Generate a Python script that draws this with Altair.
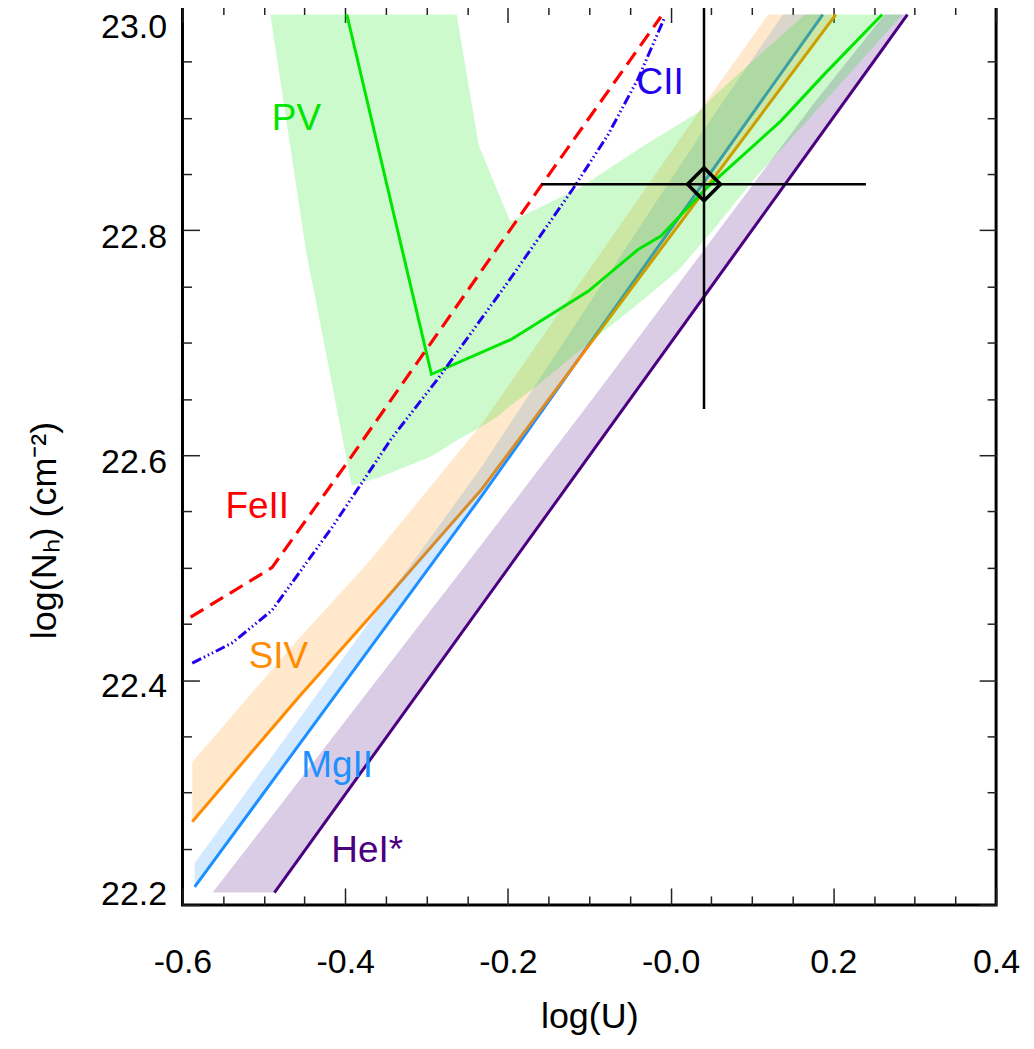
import altair as alt
import pandas as pd

FONT = "Liberation Sans"

# ---------------- data ----------------
x_ticks = [-0.6, -0.55, -0.5, -0.45, -0.4, -0.35, -0.3, -0.25, -0.2, -0.15, -0.1,
           -0.05, 0.0, 0.05, 0.1, 0.15, 0.2, 0.25, 0.3, 0.35, 0.4]
y_ticks = [22.2, 22.25, 22.3, 22.35, 22.4, 22.45, 22.5, 22.55, 22.6, 22.65, 22.7,
           22.75, 22.8, 22.85, 22.9, 22.95, 23.0]

# PV (green)
pv_line_u = [-0.398, -0.294, -0.196, -0.101, -0.040, -0.012, 0.043, 0.135, 0.189, 0.260]
pv_line_nh = [22.992, 22.672, 22.703, 22.746, 22.783, 22.795, 22.837, 22.897, 22.939, 22.992]
pv_band_u = [-0.492, -0.448, -0.436, -0.392, -0.359, -0.294, -0.263, -0.236, -0.215, -0.197,
             -0.1625, -0.1135, -0.036, 0.009, 0.034, 0.054, 0.103, 0.165, 0.285]
pv_band_lo = [22.992, 22.781, 22.737, 22.573, 22.580, 22.599, 22.613, 22.624, 22.633, 22.644,
              22.663, 22.692, 22.737, 22.764, 22.785, 22.802, 22.846, 22.895, 22.992]
pv_band_hi = [22.992, 22.992, 22.992, 22.992, 22.992, 22.992, 22.992, 22.876, 22.839, 22.808,
              22.820, 22.837, 22.874, 22.894, 22.905, 22.920, 22.952, 22.992, 22.992]

# FeII (red dashed)
fe_u = [-0.590, -0.490, -0.399, -0.159, -0.012]
fe_nh = [22.456, 22.500, 22.592, 22.840, 22.990]

# CII (blue dash-dot-dot)
c_u = [-0.588, -0.539, -0.490, -0.457, -0.416, -0.343, -0.285, -0.197, -0.120, -0.077, -0.040, -0.007]
c_nh = [22.415, 22.433, 22.462, 22.495, 22.536, 22.615, 22.669, 22.757, 22.837, 22.885, 22.935, 22.990]

# SiIV (orange)
si_u = [-0.588, -0.457, -0.371, -0.232, 0.041, 0.203]
si_nh = [22.274, 22.385, 22.455, 22.570, 22.835, 22.992]
si_band_u = [-0.588, -0.457, -0.371, -0.232, 0.041, 0.120, 0.203]
si_band_lo = [22.274, 22.385, 22.455, 22.570, 22.835, 22.912, 22.992]
si_band_hi = [22.327, 22.437, 22.505, 22.628, 22.912, 22.992, 22.992]

# MgII (dodger blue)
mg_u = [-0.585, -0.232, 0.041, 0.187]
mg_nh = [22.216, 22.564, 22.843, 22.992]
mg_band_u = [-0.585, -0.232, 0.041, 0.138, 0.187]
mg_band_lo = [22.216, 22.564, 22.843, 22.942, 22.992]
mg_band_hi = [22.237, 22.590, 22.890, 22.992, 22.992]

# HeI* (purple)
he_u = [-0.487, 0.291]
he_nh = [22.211, 22.992]
he_band_u = [-0.563, -0.487, -0.232, -0.089, 0.177, 0.263, 0.291]
he_band_lo = [22.211, 22.211, 22.466, 22.609, 22.875, 22.961, 22.992]
he_band_hi = [22.211, 22.282, 22.521, 22.657, 22.914, 22.992, 22.992]

# observed solution with error bars
obs_u = [0.041]
obs_nh = [22.841]
obs_u_lo = [-0.159]
obs_u_hi = [0.240]
obs_nh_lo = [22.641]
obs_nh_hi = [23.041]

# annotations
lab_text = ["PV", "FeII", "CII", "SIV", "MgII", "HeI*"]
lab_u = [-0.460, -0.508, -0.013, -0.482, -0.410, -0.373]
lab_nh = [22.889, 22.544, 22.921, 22.411, 22.314, 22.238]
lab_color = ["#00e600", "#ff0000", "#2200ee", "#ff8c00", "#1e90ff", "#4b0082"]

GREEN, RED, BLUE, ORANGE, DBLUE, PURPLE = lab_color

# ---------------- scales & axes ----------------
xs = alt.Scale(domain=[-0.6, 0.4], nice=False, zero=False)
ys = alt.Scale(domain=[22.2, 23.0], nice=False, zero=False)

MAJOR = "abs(datum.value*5 - round(datum.value*5)) < 0.001"


def tsize():
    return {"condition": {"test": MAJOR, "value": -17}, "value": -9}


x_axis = alt.Axis(
    orient="bottom", values=x_ticks, domain=False, grid=False,
    tickSize=tsize(), tickColor="#222222", tickWidth=1.5,
    labelExpr=(f"({MAJOR}) ? (abs(datum.value) < 1e-9 ? '-0.0' : "
               "replace(format(datum.value, '.1f'), '\u2212', '-')) : ''"),
    labelFont=FONT, labelFontSize=34, labelColor="black", labelPadding=58,
    labelFlush=False, labelOverlap=False, labelBound=False,
    title="log(U)", titleFont=FONT, titleFontSize=36, titleFontWeight="normal",
    titleColor="black", titleX=408, titleY=112, titleBaseline="middle", titleAlign="center",
)
y_axis = alt.Axis(
    orient="left", values=y_ticks, domain=False, grid=False,
    tickSize=tsize(), tickColor="#222222", tickWidth=1.5,
    labelExpr=f"({MAJOR}) ? format(datum.value, '.1f') : ''",
    labelFont=FONT, labelFontSize=34, labelColor="black", labelPadding=33,
    labelFlush=True, labelOverlap=False, labelBound=False,
    labelOffset={"condition": {"test": "datum.value > 22.99", "value": 5},
                 "value": 7},
    title="log(Nₕ) (cm⁻²)", titleFont=FONT, titleFontSize=36, titleFontWeight="normal",
    titleColor="black", titleAngle=270, titleX=-138, titleY=526,
    titleBaseline="middle", titleAlign="center",
)
top_axis = alt.Axis(orient="top", values=x_ticks, domain=False, grid=False, labels=False,
                    tickSize=tsize(), tickColor="#222222", tickWidth=1.5, title=None)
right_axis = alt.Axis(orient="right", values=y_ticks, domain=False, grid=False, labels=False,
                      tickSize=tsize(), tickColor="#222222", tickWidth=1.5, title=None)


def ex(field):
    return alt.X(f"{field}:Q", scale=xs, axis=x_axis)


def ey(field):
    return alt.Y(f"{field}:Q", scale=ys, axis=y_axis)


def line_df(u, nh):
    return pd.DataFrame({"u": u, "nh": nh})


def band_df(u, lo, hi):
    return pd.DataFrame({"u": u, "lo": lo, "hi": hi})


def line(u, nh, color, width=3, dash=None):
    kw = dict(color=color, strokeWidth=width, clip=True)
    if dash is not None:
        kw["strokeDash"] = dash
    return alt.Chart(line_df(u, nh)).mark_line(**kw).encode(x=ex("u"), y=ey("nh"))


def band(u, lo, hi, color, op=0.2):
    return alt.Chart(band_df(u, lo, hi)).mark_area(color=color, opacity=op, clip=True).encode(
        x=ex("u"), y=ey("lo"), y2="hi")


obs = pd.DataFrame({"u": obs_u, "nh": obs_nh, "ulo": obs_u_lo, "uhi": obs_u_hi,
                    "nlo": obs_nh_lo, "nhi": obs_nh_hi})
labels = pd.DataFrame({"t": lab_text, "u": lab_u, "nh": lab_nh, "c": lab_color})

layers = [
    line(he_u, he_nh, PURPLE),
    line(mg_u, mg_nh, DBLUE),
    line(si_u, si_nh, ORANGE),
    band(he_band_u, he_band_lo, he_band_hi, PURPLE),
    band(mg_band_u, mg_band_lo, mg_band_hi, DBLUE),
    band(si_band_u, si_band_lo, si_band_hi, ORANGE),
    band(pv_band_u, pv_band_lo, pv_band_hi, GREEN),
    line(pv_line_u, pv_line_nh, GREEN),
    line(fe_u, fe_nh, RED, 3.2, [15, 8]),
    line(c_u, c_nh, BLUE, 3, [10, 3, 1.5, 3, 1.5, 3, 1.5, 3]),
    alt.Chart(obs).mark_rule(color="black", strokeWidth=2.5, clip=True).encode(
        x=ex("ulo"), x2="uhi", y=ey("nh")),
    alt.Chart(obs).mark_rule(color="black", strokeWidth=2.5, clip=True).encode(
        x=ex("u"), y=ey("nlo"), y2="nhi"),
    alt.Chart(obs).mark_point(shape="diamond", size=1100, filled=False, color="black",
                              strokeWidth=3.5, opacity=1).encode(x=ex("u"), y=ey("nh")),
    alt.Chart(labels).mark_text(font=FONT, fontSize=37, align="center",
                                baseline="alphabetic").encode(
        x=ex("u"), y=ey("nh"), text="t:N", color=alt.Color("c:N", scale=None)),
]

main = alt.layer(*layers)
frame_axes = alt.Chart(obs).mark_point(opacity=0).encode(
    x=alt.X("u:Q", scale=xs, axis=top_axis),
    y=alt.Y("nh:Q", scale=ys, axis=right_axis),
)

chart = (
    alt.layer(main, frame_axes)
    .resolve_axis(x="independent", y="independent")
    .properties(
        width=816, height=902,
        autosize=alt.AutoSizeParams(type="none"),
        padding={"left": 175, "top": -4, "right": 30, "bottom": 139},
    )
    .configure_view(stroke="black", strokeWidth=3)
)

chart.save("out.html", embed_options={"renderer": "svg", "actions": False})
